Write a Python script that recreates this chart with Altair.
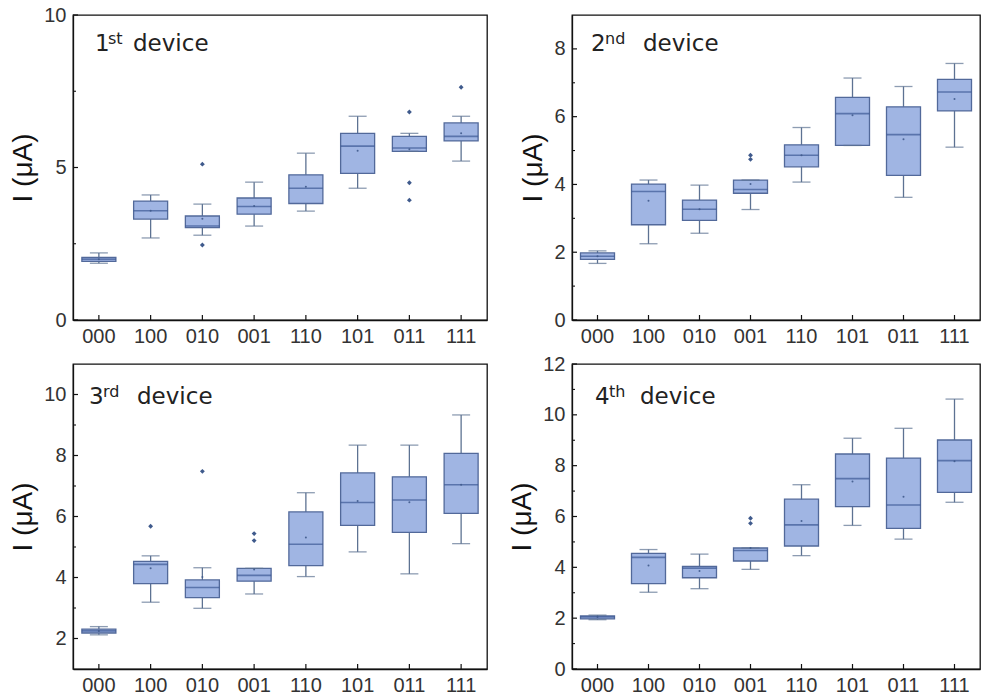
import altair as alt
import pandas as pd

cats = ["000", "100", "010", "001", "110", "101", "011", "111"]

# ---- 1st device ----
d1_wlo = [1.86, 2.69, 2.78, 3.08, 3.57, 4.32, 5.53, 5.21]
d1_q1 = [1.92, 3.31, 3.03, 3.47, 3.82, 4.81, 5.53, 5.87]
d1_med = [1.99, 3.58, 3.08, 3.72, 4.32, 5.70, 5.64, 6.02]
d1_q3 = [2.05, 3.90, 3.41, 4.00, 4.76, 6.12, 6.02, 6.46]
d1_whi = [2.20, 4.10, 3.80, 4.52, 5.47, 6.68, 6.12, 6.68]
d1_mean = [1.99, 3.58, 3.32, 3.74, 4.37, 5.55, 5.60, 6.12]
d1_out_cat = ["010", "010", "011", "011", "011", "111"]
d1_out_val = [5.11, 2.46, 6.82, 4.50, 3.93, 7.63]
d1_ticks = [0, 5, 10]
d1_minor = [2.5, 7.5]

# ---- 2nd device ----
d2_wlo = [1.67, 2.25, 2.56, 3.26, 4.07, 5.15, 3.62, 5.10]
d2_q1 = [1.79, 2.81, 2.94, 3.74, 4.52, 5.15, 4.27, 6.17]
d2_med = [1.88, 3.79, 3.27, 3.85, 4.86, 6.09, 5.47, 6.73]
d2_q3 = [1.98, 4.01, 3.54, 4.13, 5.17, 6.57, 6.29, 7.10]
d2_whi = [2.04, 4.13, 3.98, 4.13, 5.68, 7.14, 6.89, 7.57]
d2_mean = [1.88, 3.52, 3.27, 4.01, 4.86, 6.04, 5.33, 6.52]
d2_out_cat = ["001", "001"]
d2_out_val = [4.86, 4.74]
d2_ticks = [0, 2, 4, 6, 8]
d2_minor = [1, 3, 5, 7]

# ---- 3rd device ----
d3_wlo = [2.12, 3.19, 2.99, 3.46, 4.03, 4.84, 4.12, 5.11]
d3_q1 = [2.18, 3.80, 3.34, 3.88, 4.39, 5.71, 5.48, 6.10]
d3_med = [2.25, 4.43, 3.67, 4.07, 5.09, 6.46, 6.54, 7.04]
d3_q3 = [2.31, 4.53, 3.92, 4.30, 6.15, 7.43, 7.30, 8.07]
d3_whi = [2.39, 4.71, 4.32, 4.30, 6.78, 8.34, 8.34, 9.33]
d3_mean = [2.25, 4.30, 4.02, 4.26, 5.31, 6.51, 6.47, 7.04]
d3_out_cat = ["100", "010", "001", "001"]
d3_out_val = [5.68, 7.48, 5.44, 5.21]
d3_ticks = [2, 4, 6, 8, 10]
d3_minor = [3, 5, 7, 9]

# ---- 4th device ----
d4_wlo = [1.94, 3.02, 3.16, 3.92, 4.46, 5.65, 5.11, 6.56]
d4_q1 = [1.97, 3.36, 3.59, 4.25, 4.84, 6.39, 5.53, 6.95]
d4_med = [2.05, 4.39, 3.97, 4.66, 5.67, 7.49, 6.45, 8.20]
d4_q3 = [2.09, 4.55, 4.04, 4.76, 6.68, 8.46, 8.30, 9.01]
d4_whi = [2.12, 4.70, 4.52, 4.76, 7.25, 9.08, 9.47, 10.62]
d4_mean = [2.05, 4.07, 3.86, 4.76, 5.82, 7.38, 6.78, 8.17]
d4_out_cat = ["001", "001"]
d4_out_val = [5.93, 5.73]
d4_ticks = [0, 2, 4, 6, 8, 10, 12]
d4_minor = [1, 3, 5, 7, 9, 11]

FILL = "#a0b5e3"
STROKE = "#52699a"
MED = "#3c5894"
WHISK = "#5d7292"
DOT = "#3f5a8c"
AX = "#111"
H = 305


def panel(wlo, q1, med, q3, whi, mean, ocat, oval, domain, ticks, minor,
          num, sup, tx, ty, dsup, ddev, width):
    df = pd.DataFrame({"cat": cats, "wlo": wlo, "q1": q1, "med": med,
                       "q3": q3, "whi": whi, "mean": mean})
    odf = pd.DataFrame({"cat": ocat, "val": oval})
    tdf = pd.DataFrame({"v": ticks})
    mdf = pd.DataFrame({"v": minor})
    xs = alt.X("cat:N", sort=cats, title=None,
               scale=alt.Scale(paddingInner=0, paddingOuter=0),
               axis=alt.Axis(labelAngle=0, ticks=False, labelPadding=6))
    ysc = alt.Scale(domain=domain, nice=False, zero=False)
    yax = alt.Axis(values=ticks, ticks=False, labelPadding=7, titlePadding=6)

    def Y(f):
        return alt.Y(f, type="quantitative", scale=ysc, axis=yax, title="I (μA)")

    base = alt.Chart(df).encode(x=xs)
    whisk = base.mark_rule(color=WHISK, strokeWidth=1.3).encode(y=Y("wlo"), y2="whi")
    box = base.mark_bar(size=34, fill=FILL, stroke=STROKE, strokeWidth=1.3).encode(
        y=Y("q1"), y2="q3")
    medt = base.mark_tick(size=34, thickness=1.6, color=MED).encode(y=Y("med"))
    clo = base.mark_tick(size=18, thickness=1.3, color=WHISK).encode(y=Y("wlo"))
    chi = base.mark_tick(size=18, thickness=1.3, color=WHISK).encode(y=Y("whi"))
    meanp = base.mark_point(shape="circle", filled=True, size=4, color=DOT,
                            opacity=0.9).encode(y=Y("mean"))
    outl = alt.Chart(odf).mark_point(shape="diamond", filled=True, size=24,
                                     color=DOT, opacity=1).encode(
        x=alt.X("cat:N", sort=cats), y=Y("val"))
    # inward ticks
    xt = base.mark_rule(color=AX, strokeWidth=1.2).encode(
        y=alt.value(H), y2=alt.value(H - 5))
    yt = alt.Chart(tdf).mark_rule(color=AX, strokeWidth=1.2).encode(
        x=alt.value(0), x2=alt.value(5), y=Y("v"))
    ym = alt.Chart(mdf).mark_rule(color=AX, strokeWidth=1.1).encode(
        x=alt.value(0), x2=alt.value(3), y=Y("v"))
    one = alt.Data(values=[{"a": 0}])
    t_num = alt.Chart(one).mark_text(font="DejaVu Sans", fontSize=23, align="left",
                                     baseline="alphabetic", color="#222").encode(
        x=alt.value(tx), y=alt.value(ty), text=alt.value(num))
    t_sup = alt.Chart(one).mark_text(font="DejaVu Sans", fontSize=16, align="left",
                                     baseline="alphabetic", color="#222").encode(
        x=alt.value(tx + dsup), y=alt.value(ty - 7), text=alt.value(sup))
    t_dev = alt.Chart(one).mark_text(font="DejaVu Sans", fontSize=23, align="left",
                                     baseline="alphabetic", color="#222").encode(
        x=alt.value(tx + ddev), y=alt.value(ty), text=alt.value("device"))
    return alt.layer(whisk, box, medt, clo, chi, meanp, outl, xt, yt, ym,
                     t_num, t_sup, t_dev).properties(width=width, height=H)


p1 = panel(d1_wlo, d1_q1, d1_med, d1_q3, d1_whi, d1_mean, d1_out_cat, d1_out_val,
           [0, 10], d1_ticks, d1_minor, "1", "st", 22, 36, 13, 38, 414)
p2 = panel(d2_wlo, d2_q1, d2_med, d2_q3, d2_whi, d2_mean, d2_out_cat, d2_out_val,
           [0, 9], d2_ticks, d2_minor, "2", "nd", 19, 36, 14, 52, 408)
p3 = panel(d3_wlo, d3_q1, d3_med, d3_q3, d3_whi, d3_mean, d3_out_cat, d3_out_val,
           [1, 11], d3_ticks, d3_minor, "3", "rd", 16, 40, 14, 48, 414)
p4 = panel(d4_wlo, d4_q1, d4_med, d4_q3, d4_whi, d4_mean, d4_out_cat, d4_out_val,
           [0, 12], d4_ticks, d4_minor, "4", "th", 23, 40, 14, 45, 408)

row1 = alt.hconcat(p1, p2, spacing=31)
row2 = alt.hconcat(p3, p4, spacing=20)

chart = alt.vconcat(row1, row2, spacing=6).properties(
    padding={"left": 9, "top": 4, "right": 0, "bottom": 0},
    background="white",
).configure_view(
    stroke=AX, strokeWidth=1.3
).configure_axis(
    grid=False,
    domainColor=AX, domainWidth=1.3,
    labelFont="Liberation Sans", labelFontSize=20, labelColor="#333",
    titleFont="Liberation Sans", titleFontSize=28, titleFontWeight="normal",
    titleColor="#111",
)

chart.save("out.html", embed_options={"renderer": "svg", "actions": False})
